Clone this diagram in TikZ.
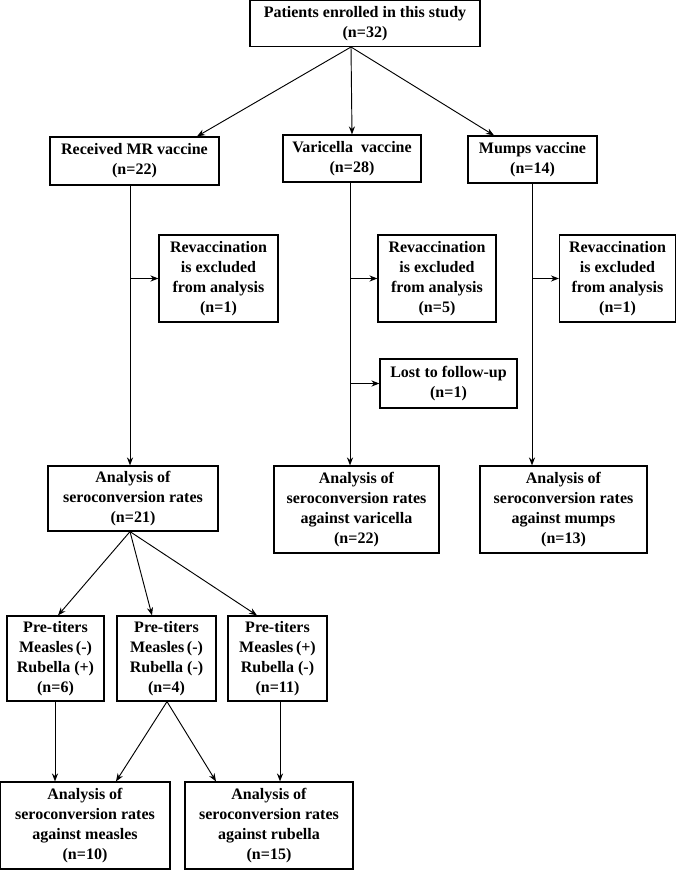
\documentclass[tikz,border=0pt]{standalone}
\usepackage{fontspec}
\setmainfont{Liberation Serif}
\usetikzlibrary{arrows.meta}
\begin{document}
\begin{tikzpicture}[x=0.75pt,y=-0.75pt,
  bx/.style 2 args={draw, line width=0.9pt, align=center, inner sep=0pt,
    minimum width=#1*0.75pt, minimum height=#2*0.75pt,
    font=\fontsize{12}{15}\selectfont\bfseries},
  arr/.style={line width=0.7pt, -{Stealth[length=6pt,width=4.6pt]}},
  ln/.style={line width=0.7pt}]
\useasboundingbox (0,0) rectangle (676,870);
% top
\node[bx={230}{46}] (top) at (365,23.5) {Patients enrolled in this study\\(n=32)};
\coordinate (tp) at (351,47);
% second row
\node[bx={169}{48}] (mr) at (134.5,161) {Received MR vaccine\\(n=22)};
\node[bx={138}{47}] (var) at (352,158.5) {Varicella\ \ vaccine\\(n=28)};
\node[bx={129}{47}] (mum) at (532.5,159.5) {Mumps vaccine\\(n=14)};
\draw[arr] (tp) -- (197,0 |- mr.north);
\draw[arr] (tp) -- (352,0 |- var.north);
\draw[arr] (tp) -- (494,0 |- mum.north);
% exclusions
\node[bx={119}{87}] (rev1) at (218.5,278.5) {Revaccination\\is excluded\\from analysis\\(n=1)};
\node[bx={118}{87}] (rev2) at (437,278.5) {Revaccination\\is excluded\\from analysis\\(n=5)};
\node[bx={116}{87}] (rev3) at (617.5,278.5) {Revaccination\\is excluded\\from analysis\\(n=1)};
\node[bx={137}{49}] (lost) at (448.5,383.5) {Lost to follow-up\\(n=1)};
% analysis row
\node[bx={170}{65}] (amr) at (133,498.5) {Analysis of\\seroconversion rates\\(n=21)};
\node[bx={165}{87}] (avar) at (356.5,509.5) {Analysis of\\seroconversion rates\\against varicella\\(n=22)};
\node[bx={167}{87}] (amum) at (563.5,509.5) {Analysis of\\seroconversion rates\\against mumps\\(n=13)};
% trunks
\coordinate (t1) at (130,0 |- mr.south);
\coordinate (t2) at (350,0 |- var.south);
\coordinate (t3) at (532,0 |- mum.south);
\draw[arr] (t1) -- (130,0 |- amr.north);
\draw[arr] (t2) -- (350,0 |- avar.north);
\draw[arr] (t3) -- (532,0 |- amum.north);
\coordinate (b1) at (130,0 |- rev1.west);
\coordinate (b2) at (350,0 |- rev2.west);
\coordinate (b3) at (532,0 |- rev3.west);
\coordinate (b4) at (350,0 |- lost.west);
\draw[arr] (b1) -- (rev1.west);
\draw[arr] (b2) -- (rev2.west);
\draw[arr] (b3) -- (rev3.west);
\draw[arr] (b4) -- (lost.west);
% pre-titers
\node[bx={97}{85}] (p1) at (55.5,658.5) {Pre-titers\\Measles\,(-)\\Rubella (+)\\(n=6)};
\node[bx={99}{85}] (p2) at (166.5,658.5) {Pre-titers\\Measles\,(-)\\Rubella (-)\\(n=4)};
\node[bx={99}{85}] (p3) at (277.5,658.5) {Pre-titers\\Measles\,(+)\\Rubella (-)\\(n=11)};
\coordinate (as) at (130,0 |- amr.south);
\draw[arr] (as) -- (58,0 |- p1.north);
\draw[arr] (as) -- (152,0 |- p2.north);
\draw[arr] (as) -- (257,0 |- p3.north);
% final
\node[bx={170}{87}] (ames) at (85,825.5) {Analysis of\\seroconversion rates\\against measles\\(n=10)};
\node[bx={168}{87}] (arub) at (269,825.5) {Analysis of\\seroconversion rates\\against rubella\\(n=15)};
\coordinate (q1) at (55,0 |- p1.south);
\coordinate (q2) at (167,0 |- p2.south);
\coordinate (q3) at (280,0 |- p3.south);
\draw[arr] (q1) -- (55,0 |- ames.north);
\draw[arr] (q2) -- (116,0 |- ames.north);
\draw[arr] (q2) -- (216,0 |- arub.north);
\draw[arr] (q3) -- (280,0 |- arub.north);
\end{tikzpicture}
\end{document}
